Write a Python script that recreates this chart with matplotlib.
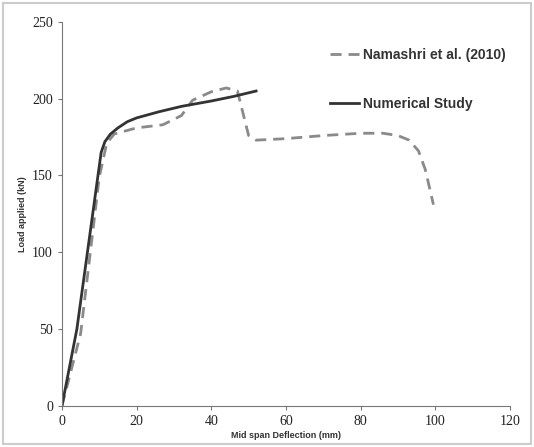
import matplotlib
matplotlib.use('Agg')
import matplotlib.pyplot as plt
from matplotlib import rcParams
from matplotlib.patches import Rectangle

rcParams['font.family'] = 'serif'
rcParams['font.serif'] = ['Liberation Serif']
rcParams['xtick.direction'] = 'out'
rcParams['ytick.direction'] = 'out'

# Numerical study (solid)
num_x = [0, 4, 10.5, 11.5, 13, 15, 17.5, 20, 26, 32, 40, 46, 52]
num_y = [0, 50, 165, 172, 177, 181, 185, 187.5, 191.5, 195, 198.5, 201.5, 205]

# Namashri et al. (2010) (dashed)
exp_x = [0, 5, 10, 12, 14, 20, 27, 32, 35, 40, 44, 47, 50, 52, 60, 70,
         80, 86, 90, 93, 95.5, 97.3, 99.5]
exp_y = [0, 47, 149, 171, 177, 181, 183, 189, 199, 204.5, 207, 205, 176,
         173, 174, 176, 177.5, 177.5, 176, 173, 166, 154, 131]

fig = plt.figure(figsize=(5.34, 4.47), dpi=100)
ax = fig.add_axes([0.116, 0.092, 0.839, 0.859])

ax.plot(exp_x, exp_y, color='#8a8a8a', lw=2, ls=(0, (4, 2.5)),
        label='Namashri et al. (2010)')
ax.plot(num_x, num_y, color='#333333', lw=2, label='Numerical Study')

ax.set_xlim(0, 120)
ax.set_ylim(0, 250)
ax.set_xticks(range(0, 121, 20))
ax.set_yticks(range(0, 251, 50))
ax.tick_params(labelsize=10, length=3, color='#777777', labelcolor='#222222')
for s in ['top', 'right']:
    ax.spines[s].set_visible(False)
for s in ['left', 'bottom']:
    ax.spines[s].set_color('#777777')

ax.set_xlabel('Mid span Deflection (mm)', family='Liberation Sans',
              fontsize=6.5, fontweight='bold', color='#333333', labelpad=2)
ax.set_ylabel('Load applied (kN)', family='Liberation Sans',
              fontsize=6.5, fontweight='bold', color='#333333', labelpad=4)

leg = ax.legend(loc='upper left', bbox_to_anchor=(0.57, 0.965), frameon=False,
                prop={'family': 'Liberation Sans', 'size': 10, 'weight': 'bold'},
                labelspacing=2.5, handlelength=2.1, handletextpad=0.3)
for t in leg.get_texts():
    t.set_color('#333333')

fig.patches.append(Rectangle((0.006, 0.006), 0.988, 0.988, transform=fig.transFigure,
                             fill=False, edgecolor='#cccccc', lw=1.5))

fig.savefig('out.png', dpi=100)
